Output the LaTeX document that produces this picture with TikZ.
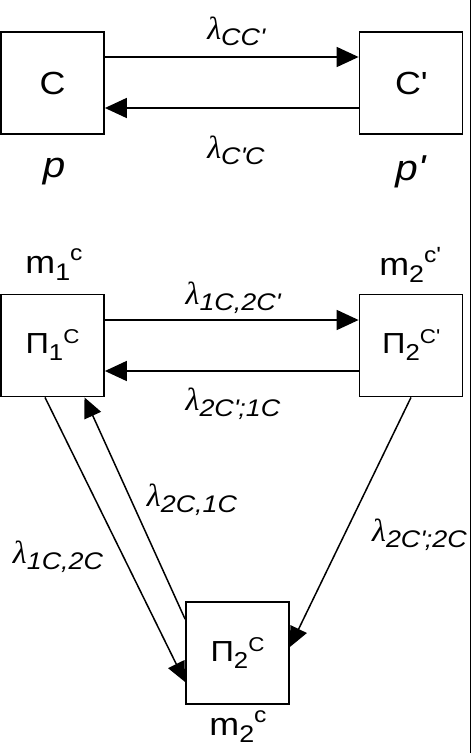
\documentclass[tikz,border=0pt]{standalone}
\usepackage{fontspec}
\setmainfont{Liberation Sans}[FakeStretch=1.12]
\newfontfamily\lamfont{Liberation Serif}
\usetikzlibrary{arrows.meta}
\newcommand{\fsz}[1]{\fontsize{#1}{#1}\selectfont}
\newcommand{\qs}{\textquotesingle}
\newcommand{\lamlab}[1]{{\fsz{32}\lamfont\itshape λ}\raisebox{-6pt}{\fsz{24}\itshape #1}}
\begin{document}
\begin{tikzpicture}[x=1pt,y=-1pt,
  box/.style={draw,line width=1.8pt,minimum width=103pt,minimum height=102pt,inner sep=0pt,font=\fsz{32}},
  conn/.style={line width=1.7pt,-{Triangle[length=22pt,width=20pt]}},
  dconn/.style={line width=1.5pt,-{Triangle[length=20pt,width=18pt]}},
  lab/.style={inner sep=0pt}]
\useasboundingbox (0,0) rectangle (472,753);
\fill[white] (0,0) rectangle (472,753);
% top part
\node[box] (C) at (52.5,83) {C};
\node[box] (Cp) at (411,83) {C\qs};
\draw[conn] ([yshift=26pt]C.east) -- ([yshift=26pt]Cp.west);
\draw[conn] ([yshift=-25pt]Cp.west) -- ([yshift=-25pt]C.east);
\node[lab] (l1) at (236,31) {\lamlab{CC\qs}};
\node[lab] (l2) at (236,150) {\lamlab{C\qs C}};
\node[lab,font=\fsz{36}\itshape] (p) at (54,172) {p};
\node[lab,font=\fsz{36}\itshape] (pp) at (410,172) {p\qs};
% bottom part
\node[box,font=\fsz{29}] (P1) at (52.5,345.5) {Π\raisebox{-7pt}{\fsz{23}1}\raisebox{10pt}{\fsz{20}C}};
\node[box,font=\fsz{29}] (P2p) at (411,345.5) {Π\raisebox{-7pt}{\fsz{23}2}\raisebox{10pt}{\fsz{20}C\qs}};
\node[box,font=\fsz{29}] (P2) at (237.5,653) {Π\raisebox{-7pt}{\fsz{23}2}\raisebox{10pt}{\fsz{20}C}};
\node[lab,font=\fsz{32}] (m1) at (54,265) {m\raisebox{-7pt}{\fsz{24}1}\raisebox{13pt}{\fsz{22}c}};
\node[lab,font=\fsz{32}] (m2p) at (410,265) {m\raisebox{-7pt}{\fsz{24}2}\raisebox{13pt}{\fsz{22}c\qs}};
\node[lab,font=\fsz{32}] (m2) at (238,727) {m\raisebox{-7pt}{\fsz{24}2}\raisebox{13pt}{\fsz{22}c}};
\draw[conn] ([yshift=25.5pt]P1.east) -- ([yshift=25.5pt]P2p.west);
\draw[conn] ([yshift=-25.5pt]P2p.west) -- ([yshift=-25.5pt]P1.east);
\draw[dconn] ([xshift=-7.5pt]P1.south) -- ([yshift=-29pt]P2.west);
\draw[dconn] ([yshift=-18pt]P2.north west) -- ([xshift=32pt]P1.south);
\draw[dconn] (P2p.south) -- ([yshift=6pt]P2.east);
\node[lab] (l3) at (233,298) {\lamlab{1C,2C\qs}};
\node[lab] (l4) at (233,404) {\lamlab{2C\qs;1C}};
\node[lab] (l5) at (192,500) {\lamlab{2C,1C}};
\node[lab] (l6) at (58,557) {\lamlab{1C,2C}};
\node[lab,anchor=east] (l7) at (467,535) {\lamlab{2C\qs;2C}};
% right edge rule
\draw[line width=1.5pt] (470.5,0) -- (470.5,753);
\end{tikzpicture}
\end{document}
